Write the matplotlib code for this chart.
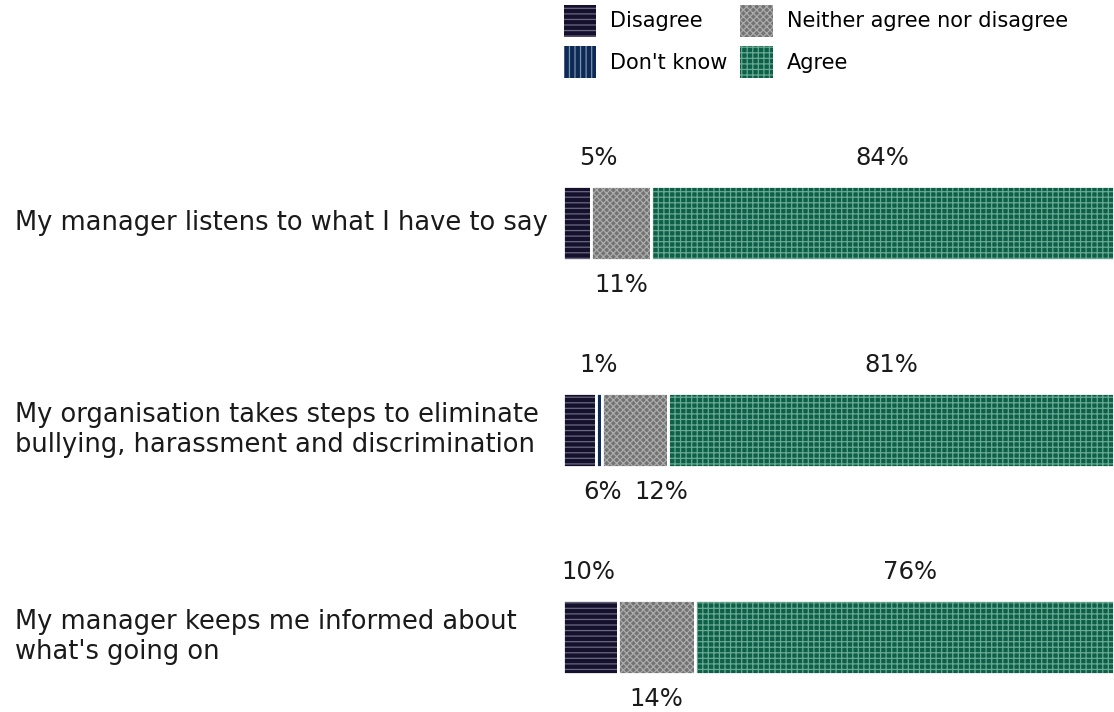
import matplotlib
matplotlib.use("Agg")
import matplotlib.pyplot as plt
from matplotlib.patches import Patch
from matplotlib.transforms import blended_transform_factory

plt.rcParams["font.family"] = ["DejaVu Sans"]
plt.rcParams["hatch.linewidth"] = 0.9

questions = [
    "My manager listens to what I have to say",
    "My organisation takes steps to eliminate\nbullying, harassment and discrimination",
    "My manager keeps me informed about\nwhat's going on",
]
categories = ["Disagree", "Don't know", "Neither agree nor disagree", "Agree"]
disagree = [5, 6, 10]
dont_know = [0, 1, 0]
neither = [11, 12, 14]
agree = [84, 81, 76]

# fill, hatch line colour, hatch pattern per category
styles = {
    "Disagree": ("#15112d", "#6a6880", "---"),
    "Don't know": ("#0c2a55", "#7d8fae", "|||"),
    "Neither agree nor disagree": ("#737373", "#ababab", "xxxxx"),
    "Agree": ("#0c6047", "#6aa892", "+++"),
}
# label placement per segment: 'above' / 'below', plus horizontal nudge in pixels
label_side = {
    "Disagree": ["above", "below", "above"],
    "Don't know": ["above", "above", "above"],
    "Neither agree nor disagree": ["below", "below", "below"],
    "Agree": ["above", "above", "above"],
}
label_nudge = {
    "Disagree": [22, 23, -2],
    "Don't know": [0, 0, 0],
    "Neither agree nor disagree": [0, 27, 0],
    "Agree": [0, 0, 5],
}

W, H = 1114, 712
fig = plt.figure(figsize=(W / 100, H / 100), dpi=100)
ax = fig.add_axes([563 / W, 0, 551 / W, 592 / H])
ax.set_xlim(0, 100)
ax.set_ylim(2.362, -0.4976)
ax.axis("off")

series = {"Disagree": disagree, "Don't know": dont_know,
          "Neither agree nor disagree": neither, "Agree": agree}
ypos = list(range(len(questions)))
bar_h = 0.357
left = [0.0] * len(questions)
txt_col = "#1a1a1a"
for cat in categories:
    vals = series[cat]
    face, hcol, hatch = styles[cat]
    ax.barh(ypos, vals, left=left, height=bar_h, color=face, edgecolor=hcol,
            hatch=hatch, linewidth=0)
    ax.barh(ypos, vals, left=left, height=bar_h, fill=False, edgecolor="white",
            linewidth=2)
    for i, v in enumerate(vals):
        if v <= 0:
            continue
        cx = left[i] + v / 2
        nud = label_nudge[cat][i] * 0.72
        if label_side[cat][i] == "above":
            ax.annotate(f"{v}%", (cx, ypos[i] - bar_h / 2), xytext=(nud, 20),
                        textcoords="offset points", ha="center", va="center",
                        fontsize=17.5, color=txt_col)
        else:
            ax.annotate(f"{v}%", (cx, ypos[i] + bar_h / 2), xytext=(nud, -18),
                        textcoords="offset points", ha="center", va="center",
                        fontsize=17.5, color=txt_col)
    left = [l + v for l, v in zip(left, vals)]

trans = blended_transform_factory(fig.transFigure, ax.transData)
for i, q in enumerate(questions):
    ax.text(15 / W, ypos[i], q, transform=trans, ha="left", va="center",
            fontsize=18.5, color=txt_col, linespacing=1.2)

handles = [Patch(facecolor=styles[c][0], edgecolor=styles[c][1], hatch=styles[c][2],
                 linewidth=0, label=c) for c in categories]
fig.legend(handles=handles, ncol=2, loc="upper left",
           bbox_to_anchor=(551 / W, 1.011), frameon=False, fontsize=15,
           handlelength=1.54, handleheight=1.99, handletextpad=0.7,
           columnspacing=0.62, labelspacing=0.45, borderaxespad=0.2)

fig.savefig("out.png", dpi=100)
